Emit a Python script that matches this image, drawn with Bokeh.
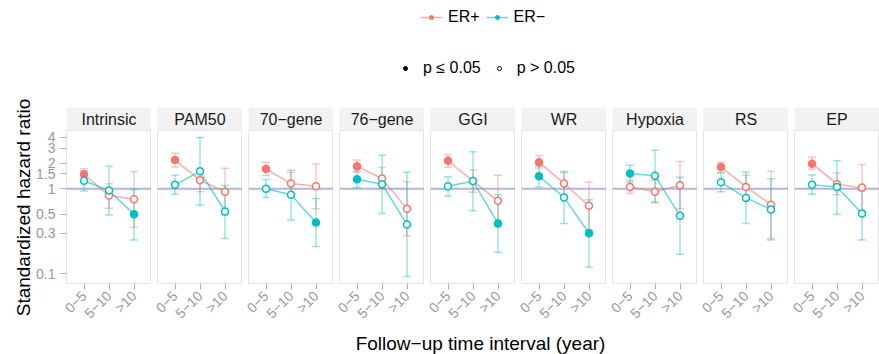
import math
from bokeh.plotting import figure
from bokeh.models import (ColumnDataSource, FactorRange, Range1d, FixedTicker, Span,
                          Whisker, TeeHead, Legend, LegendItem)
from bokeh.layouts import row, column
from bokeh.core.properties import value
from bokeh.embed import file_html
from bokeh.resources import INLINE

# ---------------- data ----------------
models = ["Intrinsic", "PAM50", "70−gene", "76−gene", "GGI", "WR", "Hypoxia", "RS", "EP"]
intervals = ["0−5", "5−10", ">10"]

# ER+ : three intervals per model (0-5, 5-10, >10)
erpos_hr = [1.47, 0.83, 0.75,  2.17, 1.26, 0.92,  1.71, 1.15, 1.07,
            1.83, 1.32, 0.58,  2.13, 1.23, 0.72,  2.05, 1.15, 0.63,
            1.05, 0.92, 1.10,  1.80, 1.05, 0.65,  1.97, 1.13, 1.03]
erpos_lo = [1.29, 0.59, 0.35,  1.80, 0.92, 0.49,  1.43, 0.85, 0.58,
            1.57, 1.00, 0.28,  1.78, 0.91, 0.36,  1.75, 0.80, 0.33,
            0.88, 0.68, 0.58,  1.57, 0.77, 0.26,  1.69, 0.85, 0.55]
erpos_hi = [1.72, 1.14, 1.59,  2.61, 1.69, 1.74,  2.04, 1.55, 1.95,
            2.17, 1.77, 1.21,  2.50, 1.66, 1.44,  2.46, 1.60, 1.20,
            1.26, 1.26, 2.09,  2.05, 1.44, 1.60,  2.35, 1.53, 1.92]
erpos_sig = [1, 0, 0,  1, 0, 0,  1, 0, 0,
             1, 0, 0,  1, 0, 0,  1, 0, 0,
             0, 0, 0,  1, 0, 0,  1, 0, 0]

# ER- : three intervals per model
erneg_hr = [1.24, 0.95, 0.50,  1.11, 1.60, 0.54,  1.00, 0.85, 0.40,
            1.29, 1.13, 0.38,  1.07, 1.23, 0.39,  1.40, 0.79, 0.30,
            1.51, 1.42, 0.48,  1.19, 0.78, 0.57,  1.11, 1.05, 0.51]
erneg_lo = [0.94, 0.49, 0.25,  0.86, 0.64, 0.26,  0.79, 0.43, 0.21,
            1.03, 0.51, 0.093, 0.82, 0.55, 0.18,  1.05, 0.39, 0.12,
            1.19, 0.70, 0.17,  0.92, 0.39, 0.25,  0.86, 0.50, 0.25]
erneg_hi = [1.63, 1.85, 0.98,  1.44, 4.00, 1.09,  1.28, 1.65, 0.77,
            1.60, 2.48, 1.56,  1.38, 2.71, 0.85,  1.83, 1.55, 0.74,
            1.88, 2.83, 1.36,  1.53, 1.57, 1.31,  1.45, 2.13, 1.01]
erneg_sig = [0, 0, 1,  0, 0, 0,  0, 0, 1,
             1, 0, 0,  0, 0, 1,  1, 0, 1,
             1, 0, 0,  0, 0, 0,  0, 0, 0]

y_ticks = [0.1, 0.3, 0.5, 1, 1.5, 2, 3, 4]
y_tick_labels = ["0.1", "0.3", "0.5", "1", "1.5", "2", "3", "4"]
reference_hr = 1

series_names = ["ER+", "ER−"]
sig_labels = ["p ≤ 0.05", "p > 0.05"]
y_title = "Standardized hazard ratio"
x_title = "Follow−up time interval (year)"

# ---------------- style ----------------
FONT = "Liberation Sans"
C_POS = "#F8766D"
C_NEG = "#00BFC4"
TICK_GREY = "#999999"
NAN = float("nan")

# y range: data range expanded by 5% on the log scale (as ggplot)
all_lo = min(erpos_lo + erneg_lo)
all_hi = max(erpos_hi + erneg_hi)
l0, l1 = math.log10(all_lo), math.log10(all_hi)
pad = 0.05 * (l1 - l0)
Y_LO, Y_HI = 10 ** (l0 - pad), 10 ** (l1 + pad)

TITLE_W = 33
PANEL_W, PANEL_H, STRIP_H, BOTTOM = 85, 153, 23, 49
HEADER_H, FOOTER_H = 107, 22
MAIN_W = 879 - TITLE_W


def bare_fig(**kw):
    f = figure(x_axis_location=None, y_axis_location=None, toolbar_location=None,
               output_backend="svg", outline_line_color=None,
               min_border_left=0, min_border_right=0, min_border_top=0, min_border_bottom=0,
               **kw)
    f.grid.grid_line_color = None
    return f


def make_panel(i):
    first = (i == 0)
    left = TITLE_W if first else 6
    sl = slice(3 * i, 3 * i + 3)
    xr = FactorRange(factors=intervals, range_padding=0.2, range_padding_units="absolute")

    # facet strip
    strip = figure(x_range=xr, y_range=Range1d(0, 1), frame_width=PANEL_W, frame_height=STRIP_H,
                   min_border_left=left, min_border_right=0, min_border_top=0, min_border_bottom=0,
                   x_axis_location=None, y_axis_location=None, toolbar_location=None,
                   output_backend="svg", background_fill_color="#f2f2f2",
                   outline_line_color=None, border_fill_color="white")
    strip.grid.grid_line_color = None
    strip.text(x=[intervals[1]], y=[0.5], text=[models[i]], text_align="center",
               text_baseline="middle", text_font=value(FONT), text_font_size="16px",
               text_color="#1a1a1a")

    # data panel
    p = figure(x_range=xr, y_range=Range1d(Y_LO, Y_HI), y_axis_type="log",
               frame_width=PANEL_W, frame_height=PANEL_H,
               min_border_left=left, min_border_right=0, min_border_top=0,
               min_border_bottom=BOTTOM,
               y_axis_location="left" if first else None,
               toolbar_location=None, output_backend="svg",
               outline_line_color="#e5e5e5", background_fill_color="white",
               border_fill_color="white")
    p.grid.grid_line_color = None

    ax = p.xaxis[0]
    ax.major_label_orientation = math.pi / 4
    ax.axis_line_color = None
    ax.major_tick_line_color = "#b0b0b0"
    ax.major_tick_out = 6
    ax.major_tick_in = 0
    ax.major_label_standoff = 4
    ax.major_label_text_font = FONT
    ax.major_label_text_font_size = "14px"
    ax.major_label_text_color = TICK_GREY

    if first:
        ya = p.yaxis[0]
        ya.ticker = FixedTicker(ticks=y_ticks, minor_ticks=[])
        ya.major_label_overrides = {t: l for t, l in zip(y_ticks, y_tick_labels)}
        ya.axis_line_color = None
        ya.major_tick_line_color = "#b0b0b0"
        ya.minor_tick_line_color = None
        ya.major_tick_out = 6
        ya.major_tick_in = 0
        ya.major_label_standoff = 5
        ya.major_label_text_font = FONT
        ya.major_label_text_font_size = "14px"
        ya.major_label_text_color = TICK_GREY

    p.add_layout(Span(location=reference_hr, dimension="width", line_color="#b4b4dc",
                      line_width=2, level="underlay"))

    srcs = []
    for hr, lo, hi, sig, col in [(erpos_hr, erpos_lo, erpos_hi, erpos_sig, C_POS),
                                 (erneg_hr, erneg_lo, erneg_hi, erneg_sig, C_NEG)]:
        src = ColumnDataSource(dict(x=intervals, hr=hr[sl], lo=lo[sl], hi=hi[sl],
                                    fill=[col if s else "white" for s in sig[sl]]))
        srcs.append((src, col))
        w = Whisker(source=src, base="x", lower="lo", upper="hi", dimension="height",
                    line_color=col, line_alpha=0.4, line_width=1.5,
                    upper_head=TeeHead(size=8, line_color=col, line_alpha=0.4, line_width=1.5),
                    lower_head=TeeHead(size=8, line_color=col, line_alpha=0.4, line_width=1.5))
        p.add_layout(w)
    for src, col in srcs:
        p.line(x="x", y="hr", source=src, line_color=col, line_alpha=0.6, line_width=1.5)
    for src, col in srcs:
        p.scatter(x="x", y="hr", source=src, size=7, line_color=col, fill_color="fill",
                  line_width=1.5)
    return column(strip, p)


panels = row(*[make_panel(i) for i in range(len(models))])

# ---------------- header with legends ----------------
header = bare_fig(width=MAIN_W, height=HEADER_H, x_range=Range1d(0, 1), y_range=Range1d(0, 1))
placeholder = ColumnDataSource(dict(x=[NAN], y=[NAN]))
items1 = []
for name, col in zip(series_names, [C_POS, C_NEG]):
    rl = header.line("x", "y", source=placeholder, line_color=col, line_alpha=0.6, line_width=1.5)
    rp = header.scatter("x", "y", source=placeholder, size=4, line_color=col, fill_color=col)
    items1.append(LegendItem(label=name, renderers=[rl, rp]))
r_sig = header.scatter("x", "y", source=placeholder, size=4, line_color="black",
                       fill_color="black")
r_ns = header.scatter("x", "y", source=placeholder, size=4, line_color="black",
                      fill_color="white", line_width=1)
items2 = [LegendItem(label=sig_labels[0], renderers=[r_sig]),
          LegendItem(label=sig_labels[1], renderers=[r_ns])]

common = dict(orientation="horizontal", glyph_width=22, glyph_height=10, padding=0, margin=0,
              border_line_color=None, background_fill_alpha=0, label_text_font=FONT,
              label_text_font_size="16px", label_text_color="black", label_height=20)
leg1 = Legend(items=items1, location=(420 - TITLE_W, 80), label_standoff=6, spacing=6, **common)
leg2 = Legend(items=items2, location=(394 - TITLE_W, 29), label_standoff=7, spacing=7, **common)
header.add_layout(leg1)
header.add_layout(leg2)

# ---------------- footer with x title ----------------
footer = bare_fig(width=MAIN_W, height=FOOTER_H, x_range=Range1d(0, MAIN_W),
                  y_range=Range1d(0, FOOTER_H))
footer.text(x=[480 - TITLE_W], y=[11], text=[x_title], text_align="center",
            text_baseline="middle", text_font=value(FONT), text_font_size="19px",
            text_color="black")

# ---------------- y title column ----------------
total_h = HEADER_H + STRIP_H + PANEL_H + BOTTOM + FOOTER_H
ytitle = bare_fig(width=TITLE_W, height=total_h, x_range=Range1d(0, TITLE_W),
                  y_range=Range1d(0, total_h))
ytitle.text(x=[23], y=[total_h - 207], text=[y_title], angle=math.pi / 2,
            text_align="center", text_baseline="middle", text_font=value(FONT),
            text_font_size="19px", text_color="black")

layout = row(ytitle, column(header, panels, footer))
open("out.html", "w").write(file_html(layout, INLINE))
